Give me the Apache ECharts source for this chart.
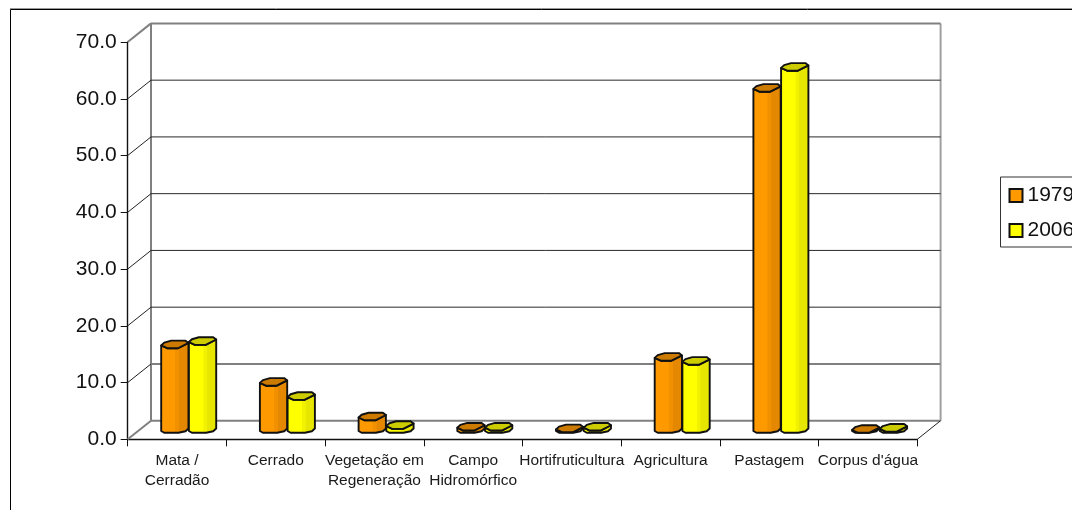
<!DOCTYPE html>
<html>
<head>
<meta charset="utf-8">
<style>html,body{margin:0;padding:0;background:#fff;overflow:hidden}#chart{width:1072px;height:510px}</style>
<script src="https://cdn.jsdelivr.net/npm/echarts@6/dist/echarts.min.js"></script>
</head>
<body>
<div id="chart"></div>
<script>
// Land cover share per class, in percent
const categories = ['Mata /\nCerradão', 'Cerrado', 'Vegetação em\nRegeneração', 'Campo\nHidromórfico',
  'Hortifruticultura', 'Agricultura', 'Pastagem', "Corpus d'água"];
const values1979 = [14.9, 8.3, 2.2, 0.4, 0.1, 12.7, 60.1, 0.0];
const values2006 = [15.5, 5.8, 0.7, 0.4, 0.4, 12.0, 63.8, 0.2];
const yTicks = [0, 10, 20, 30, 40, 50, 60, 70];
const FONT = '"Liberation Sans", Arial, sans-serif';

// Depth of the box drawn behind the plot
const DEPTH_X = 23.3;
const DEPTH_Y = -18.6;
const BAR_W = 27.3;

function line(x1, y1, x2, y2, color, width) {
  return { type: 'line', shape: { x1, y1, x2, y2 }, style: { stroke: color, lineWidth: width } };
}

// Back wall, floor and gridlines, one group per y tick
function renderWall(params, api) {
  const cs = params.coordSys;
  const v = api.value(0);
  const y = api.coord([0, v])[1];
  const left = cs.x, right = cs.x + cs.width;
  const edge = v === 0 || v === 70 || v === 10;
  const col = edge ? '#808080' : '#2a2a2a';
  const w = edge ? 2 : 1;
  const children = [
    line(left, y, left + DEPTH_X, y + DEPTH_Y, v === 70 || v === 0 ? '#808080' : '#222', v === 70 || v === 0 ? 2 : 1),
    line(left + DEPTH_X, y + DEPTH_Y, right + DEPTH_X, y + DEPTH_Y, col, w)
  ];
  if (v === 0) {
    const top = api.coord([0, 70])[1] + DEPTH_Y;
    children.push(line(left + DEPTH_X, y + DEPTH_Y, left + DEPTH_X, top, '#808080', 2));
    children.push(line(right + DEPTH_X, y + DEPTH_Y, right + DEPTH_X, top, '#a0a0a0', 2));
    children.push(line(right, y, right + DEPTH_X, y + DEPTH_Y, '#222', 1));
  }
  return { type: 'group', children };
}

// Faceted cylinder standing at mid depth of the box
function cylinder(offsetLeft, shades, topColor) {
  return function (params, api) {
    const p = api.coord([api.value(0), api.value(1)]);
    const base = api.coord([api.value(0), 0]);
    const L = p[0] + DEPTH_X / 2 + offsetLeft;
    const t = p[1] + DEPTH_Y / 2;
    const b = base[1] + DEPTH_Y / 2;
    const R = L + BAR_W;
    const fill = new echarts.graphic.LinearGradient(0, 0, 1, 0, shades);
    const stroke = { stroke: '#111', lineWidth: 1.9, lineJoin: 'round' };
    return {
      type: 'group',
      children: [
        { type: 'polygon', shape: { points: [
          [L, t], [L, b + 1], [L + 3, b + 2.8], [R - 10, b + 2.8], [R - 3, b + 1.2], [R, b - 1.5], [R, t - 2.5],
          [R - 10.5, t + 2.8], [L + 6, t + 2.8]
        ] }, style: Object.assign({ fill }, stroke) },
        { type: 'polygon', shape: { points: [
          [L, t], [L + 3, t - 2.8], [L + 10, t - 4.8], [R - 3, t - 4.8], [R, t - 2.5], [R - 10.5, t + 2.8], [L + 6, t + 2.8]
        ] }, style: Object.assign({ fill: topColor }, stroke) }
      ]
    };
  };
}

const orangeShades = [
  { offset: 0, color: '#ff9900' }, { offset: 0.5, color: '#ff9900' },
  { offset: 0.52, color: '#f29100' }, { offset: 0.64, color: '#f29100' },
  { offset: 0.66, color: '#e38800' }, { offset: 1, color: '#e38800' }
];
const yellowShades = [
  { offset: 0, color: '#ffff00' }, { offset: 0.52, color: '#ffff00' },
  { offset: 0.54, color: '#f2f200' }, { offset: 0.64, color: '#f2f200' },
  { offset: 0.66, color: '#e6e600' }, { offset: 1, color: '#e6e600' }
];

const chart = echarts.init(document.getElementById('chart'), null, { renderer: 'canvas' });
chart.setOption({
  animation: false,
  backgroundColor: '#fff',
  graphic: [
    { type: 'rect', silent: true, shape: { x: 10.5, y: 9.5, width: 1200, height: 800 }, style: { fill: 'none', stroke: '#000', lineWidth: 1 } },
    { type: 'line', silent: true, shape: { x1: 10, y1: 8.5, x2: 1072, y2: 8.5 }, style: { stroke: '#999', lineWidth: 1 } }
  ],
  grid: { left: 127.7, top: 42, width: 789.6, height: 397.3, containLabel: false },
  xAxis: {
    type: 'category',
    data: categories,
    axisLine: { lineStyle: { color: '#111', width: 1.4 } },
    axisTick: { show: true, length: 7, lineStyle: { color: '#111', width: 1 } },
    axisLabel: { interval: 0, hideOverlap: false, margin: 11, fontFamily: FONT, fontSize: 15.5, lineHeight: 20, color: '#1a1a1a' }
  },
  yAxis: {
    type: 'value',
    min: 0, max: 70, interval: 10,
    axisLine: { show: true, lineStyle: { color: '#111', width: 1.4 } },
    axisTick: { show: true, length: 7, lineStyle: { color: '#111', width: 1 } },
    splitLine: { show: false },
    axisLabel: { margin: 11, fontFamily: FONT, fontSize: 21, color: '#111', formatter: v => v.toFixed(1) }
  },
  legend: {
    data: ['1979', '2006'],
    orient: 'vertical',
    left: 1000.5, top: 177,
    padding: [8, 30, 6, 8],
    itemWidth: 13, itemHeight: 13, itemGap: 14,
    icon: 'rect',
    borderColor: '#333', borderWidth: 1,
    textStyle: { fontFamily: FONT, fontSize: 21, color: '#111' }
  },
  series: [
    { type: 'custom', name: 'wall', silent: true, z: 1, renderItem: renderWall, data: yTicks.map(v => [v]), encode: { y: 0 } },
    { type: 'custom', name: '1979', z: 2, renderItem: cylinder(-27.5, orangeShades, '#cc7a00'),
      itemStyle: { color: '#ff9900', borderColor: '#111', borderWidth: 1.5 },
      data: values1979.map((v, i) => [i, v]), encode: { x: 0, y: 1 } },
    { type: 'custom', name: '2006', z: 3, renderItem: cylinder(0.2, yellowShades, '#cccc00'),
      itemStyle: { color: '#ffff00', borderColor: '#111', borderWidth: 1.5 },
      data: values2006.map((v, i) => [i, v]), encode: { x: 0, y: 1 } }
  ]
});
</script>
</body>
</html>
